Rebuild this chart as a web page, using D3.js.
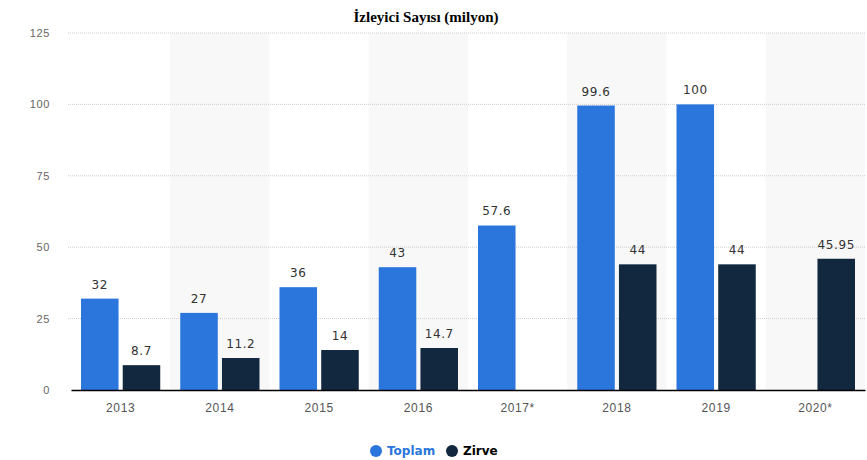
<!DOCTYPE html>
<html>
<head>
<meta charset="utf-8">
<script src="https://cdn.jsdelivr.net/npm/d3@7"></script>
<style>
  body { margin: 0; background: #fff; }
  svg { display: block; font-family: "DejaVu Sans", sans-serif; }
</style>
</head>
<body>
<div id="chart"></div>
<script>
// chart values
var years = ["2013", "2014", "2015", "2016", "2017*", "2018", "2019", "2020*"];
var toplam = [32, 27, 36, 43, 57.6, 99.6, 100, null];
var zirve = [8.7, 11.2, 14, 14.7, null, 44, 44, 45.95];
var yTicks = [0, 25, 50, 75, 100, 125];
var seriesNames = ["Toplam", "Zirve"];
var seriesColors = ["#2a76dc", "#11283f"];

var width = 867, height = 460;
var margin = { top: 33, right: 2, bottom: 70, left: 71 };
var innerW = width - margin.left - margin.right,
    innerH = height - margin.top - margin.bottom;

var svg = d3.select("#chart").append("svg")
    .attr("width", width)
    .attr("height", height);

var g = svg.append("g")
    .attr("transform", "translate(" + margin.left + "," + margin.top + ")");

// scales
var x = d3.scaleBand()
    .domain(years)
    .range([0, innerW]);

var xInner = d3.scaleBand()
    .domain(seriesNames)
    .range([10, x.bandwidth() - 10])
    .paddingInner(0.1);

var y = d3.scaleLinear()
    .domain([0, 125])
    .range([innerH, 0]);

// alternate shaded bands
g.selectAll(".band")
    .data(years.filter(function (d, i) { return i % 2 === 1; }))
    .enter().append("rect")
    .attr("x", function (d) { return x(d); })
    .attr("y", 0)
    .attr("width", x.bandwidth())
    .attr("height", innerH)
    .attr("fill", "#f8f8f8");

// grid lines
g.selectAll(".grid")
    .data(yTicks.filter(function (d) { return d > 0; }))
    .enter().append("line")
    .attr("x1", -3)
    .attr("x2", innerW)
    .attr("y1", function (d) { return y(d); })
    .attr("y2", function (d) { return y(d); })
    .attr("stroke", "#cfcfcf")
    .attr("stroke-dasharray", "1,1");

// y axis labels
var yAxis = g.append("g")
    .attr("transform", "translate(-18,0)")
    .call(d3.axisLeft(y).tickValues(yTicks).tickSize(0));
yAxis.select(".domain").remove();
yAxis.selectAll("text")
    .attr("fill", "#666")
    .style("font-size", "11px")
    .style("letter-spacing", "0.6px");

// bars
var rows = years.map(function (yr, i) {
    return { year: yr, vals: [toplam[i], zirve[i]] };
});

var groups = g.selectAll(".grp")
    .data(rows)
    .enter().append("g")
    .attr("transform", function (d) { return "translate(" + x(d.year) + ",0)"; });

var cells = groups.selectAll(".bar")
    .data(function (d) {
        return d.vals.map(function (v, k) { return { name: seriesNames[k], k: k, v: v }; })
            .filter(function (c) { return c.v != null; });
    })
    .enter();

cells.append("rect")
    .attr("x", function (d) { return xInner(d.name); })
    .attr("width", xInner.bandwidth())
    .attr("y", function (d) { return y(d.v); })
    .attr("height", function (d) { return innerH - y(d.v); })
    .attr("fill", function (d) { return seriesColors[d.k]; });

cells.append("text")
    .attr("x", function (d) { return xInner(d.name) + xInner.bandwidth() / 2; })
    .attr("y", function (d) { return y(d.v) - 10; })
    .attr("text-anchor", "middle")
    .attr("fill", "#333")
    .style("font-size", "12px")
    .style("letter-spacing", "0.6px")
    .text(function (d) { return d.v; });

// baseline + x axis
var xAxis = g.append("g")
    .attr("transform", "translate(0," + innerH + ")")
    .call(d3.axisBottom(x).tickSize(0).tickPadding(13));
xAxis.select(".domain").attr("stroke", "#000").attr("stroke-width", 1.5);
xAxis.selectAll("text")
    .attr("fill", "#555")
    .style("font-size", "12px")
    .style("letter-spacing", "0.6px");

// title
svg.append("text")
    .attr("x", 426)
    .attr("y", 22)
    .attr("text-anchor", "middle")
    .style("font-family", "'Liberation Serif', serif")
    .style("font-weight", "bold")
    .style("font-size", "15px")
    .attr("fill", "#000")
    .text("İzleyici Sayısı (milyon)");

// legend
var legend = svg.append("g").attr("transform", "translate(376,451)");
var legendX = [0, 76];
var legendTextColors = ["#2a76dc", "#000"];
seriesNames.forEach(function (name, i) {
    legend.append("circle")
        .attr("cx", legendX[i])
        .attr("cy", 0)
        .attr("r", 6)
        .attr("fill", seriesColors[i]);
    legend.append("text")
        .attr("x", legendX[i] + 11)
        .attr("y", 4)
        .attr("fill", legendTextColors[i])
        .style("font-weight", "bold")
        .style("font-size", "12px")
        .text(name);
});
</script>
</body>
</html>
